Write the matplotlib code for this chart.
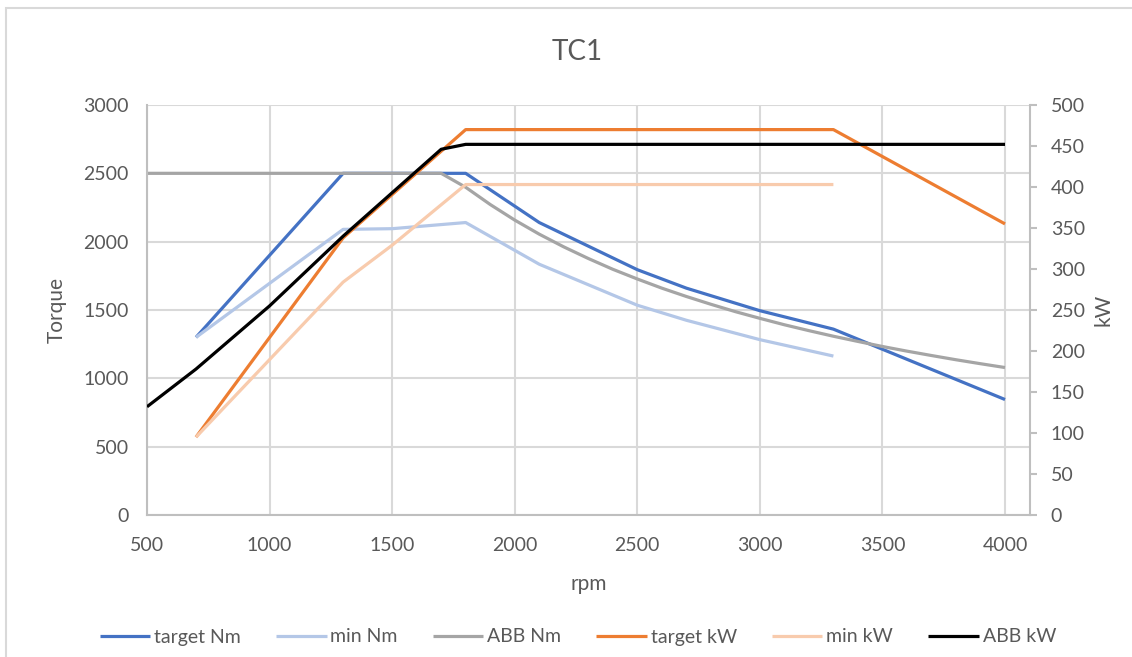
import matplotlib
matplotlib.use("Agg")
import matplotlib.pyplot as plt
from matplotlib.patches import Rectangle

plt.rcParams['font.family'] = ['Lato', 'DejaVu Sans']

# data
rpm_target = [700, 1300, 1800, 2100, 2500, 2700, 3000, 3300, 4000]
target_nm = [1300, 2500, 2500, 2140, 1795, 1660, 1495, 1360, 845]
target_kw = [95, 338, 470, 470, 470, 470, 470, 470, 355]

rpm_min = [700, 1300, 1500, 1800, 2100, 2500, 2700, 3000, 3300]
min_nm = [1300, 2090, 2095, 2140, 1835, 1535, 1425, 1283, 1163]
min_kw = [95, 284, 329, 403, 403, 403, 403, 403, 403]

rpm_abb_nm = [500, 1700, 1800, 1900, 2000, 2100, 2200, 2300, 2400, 2500, 2600, 2700,
              2800, 2900, 3000, 3100, 3200, 3300, 3400, 3500, 3600, 3700, 3800, 3900, 4000]
abb_nm = [2500, 2500, 2398, 2272, 2158, 2055, 1962, 1877, 1798, 1727, 1660, 1599,
          1542, 1488, 1439, 1392, 1349, 1308, 1270, 1233, 1199, 1167, 1136, 1107, 1079]

rpm_abb_kw = [500, 700, 1000, 1300, 1500, 1700, 1800, 4000]
abb_kw = [132, 178, 255, 340, 393, 446, 452, 452]

x_ticks = [500, 1000, 1500, 2000, 2500, 3000, 3500, 4000]
nm_ticks = [0, 500, 1000, 1500, 2000, 2500, 3000]
kw_ticks = [0, 50, 100, 150, 200, 250, 300, 350, 400, 450, 500]

text_c = '#595959'
grid_c = '#d9d9d9'
axis_c = '#bfbfbf'

fig = plt.figure(figsize=(11.32, 6.57), dpi=100)
ax = fig.add_axes([147/1132, 1-515/657, (1030-147)/1132, (515-105)/657])
ax2 = ax.twinx()

lw = 2.3
l1, = ax.plot(rpm_target, target_nm, color='#4472C4', lw=lw, label='target Nm')
l2, = ax.plot(rpm_min, min_nm, color='#B4C7E7', lw=lw, label='min Nm')
l3, = ax.plot(rpm_abb_nm, abb_nm, color='#A5A5A5', lw=lw, label='ABB Nm')
l4, = ax2.plot(rpm_target, target_kw, color='#ED7D31', lw=lw, label='target kW')
l5, = ax2.plot(rpm_min, min_kw, color='#F8CBAD', lw=lw, label='min kW')
l6, = ax2.plot(rpm_abb_kw, abb_kw, color='#000000', lw=lw, label='ABB kW')
for l in (l1, l2, l3, l4, l5, l6):
    l.set_solid_capstyle('butt')

ax.set_xlim(500, 4102)
ax.set_ylim(0, 3000)
ax2.set_ylim(0, 500)
ax.set_xticks(x_ticks)
ax.set_yticks(nm_ticks)
ax2.set_yticks(kw_ticks)

ax.grid(True, color=grid_c, lw=1.5)
ax.set_axisbelow(True)

for a in (ax, ax2):
    for s in a.spines.values():
        s.set_visible(False)
ax.spines['left'].set_visible(True)
ax.spines['left'].set_color(axis_c)
ax.spines['left'].set_linewidth(1.5)
ax.spines['bottom'].set_visible(True)
ax.spines['bottom'].set_color(axis_c)
ax.spines['bottom'].set_linewidth(1.5)
ax2.spines['right'].set_visible(True)
ax2.spines['right'].set_color(axis_c)
ax2.spines['right'].set_linewidth(1.5)

ax.tick_params(axis='y', length=0, pad=13, labelsize=14, labelcolor=text_c)
ax.tick_params(axis='x', length=0, pad=16, labelsize=14, labelcolor=text_c)
ax2.tick_params(axis='y', length=5, width=1.5, color=axis_c, pad=10,
                labelsize=14, labelcolor=text_c)

ax.set_ylabel('Torque', fontsize=15, color=text_c, labelpad=12)
ax.set_xlabel('rpm', fontsize=15, color=text_c, labelpad=14)
ax2.set_ylabel('kW', fontsize=15, color=text_c, labelpad=6)

fig.text(577/1132, 1-52/657, 'TC1', fontsize=20, color=text_c, ha='center', va='center')

fig.legend(handles=[l1, l2, l3, l4, l5, l6], loc='center',
           bbox_to_anchor=(578/1132, 1-637/657), ncol=6, frameon=False,
           fontsize=14, labelcolor=text_c, handlelength=2.6, handletextpad=0.2,
           columnspacing=1.8)

# chart area border
fig.patches.append(Rectangle((6/1132, -0.1), 1.2, 1-8/657+0.1, transform=fig.transFigure,
                             fill=False, edgecolor=grid_c, lw=1.5))

fig.savefig('out.png', dpi=100)
